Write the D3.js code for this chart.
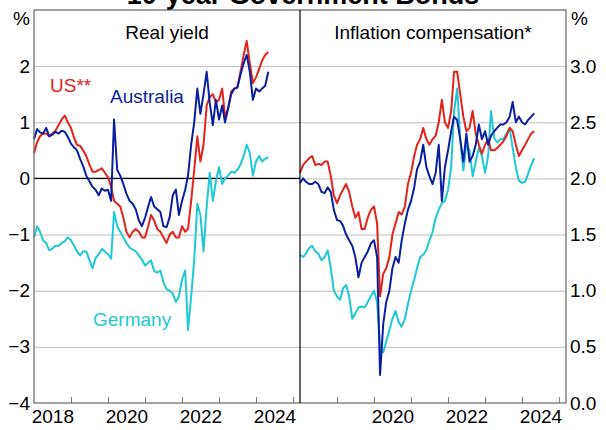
<!DOCTYPE html>
<html>
<head>
<meta charset="utf-8">
<script src="https://cdn.jsdelivr.net/npm/d3@7"></script>
<style>
  body { margin: 0; background: #fff; }
  svg { display: block; font-family: "Liberation Sans", Arial, sans-serif; }
</style>
</head>
<body>
<svg id="chart" width="606" height="430"></svg>
<script>
// monthly observations, Jan 2018 to May 2024
var startMonth = new Date(2018, 0, 1);
var endMonth = new Date(2024, 5, 1);

// Real yield, %
var usReal = [0.45,0.65,0.75,0.8,0.8,0.75,0.8,0.85,0.95,1.05,
  1.12,1.0,0.9,0.72,0.6,0.58,0.5,0.4,0.25,0.12,
  0.12,0.15,0.18,0.1,0.02,-0.15,-0.4,-0.45,-0.5,-0.7,
  -0.95,-1.05,-0.95,-0.9,-0.95,-1.05,-1.05,-0.85,-0.65,-0.75,
  -0.9,-0.95,-1.05,-1.15,-1.0,-0.95,-1.05,-1.05,-0.85,-0.95,
  -0.9,-0.4,0.15,0.75,0.3,0.6,1.3,1.45,1.5,1.35,
  1.4,1.6,1.1,1.25,1.55,1.6,1.62,1.9,2.2,2.45,
  2.05,1.7,1.8,1.95,2.1,2.2,2.25];
var auReal = [0.7,0.88,0.82,0.8,0.9,0.75,0.78,0.83,0.8,0.85,
  0.83,0.74,0.62,0.55,0.5,0.35,0.22,0.05,-0.05,-0.15,
  -0.2,-0.3,-0.18,-0.22,-0.2,-0.4,1.05,0.15,0.05,-0.1,
  -0.27,-0.4,-0.45,-0.55,-0.75,-0.85,-0.7,-0.5,-0.33,-0.5,
  -0.55,-0.6,-0.85,-0.87,-0.69,-0.3,-0.2,-0.65,-0.4,-0.2,
  0.05,0.6,1.0,1.6,1.15,1.5,1.9,1.35,0.95,1.4,
  1.05,1.3,1.0,1.25,1.5,1.6,1.62,1.85,2.05,2.2,
  1.9,1.4,1.6,1.55,1.6,1.65,1.9];
var deReal = [-1.05,-0.85,-0.95,-1.1,-1.15,-1.28,-1.25,-1.2,-1.2,-1.15,
  -1.12,-1.05,-1.1,-1.2,-1.3,-1.37,-1.3,-1.3,-1.45,-1.6,
  -1.42,-1.35,-1.26,-1.3,-1.35,-1.43,-0.6,-0.85,-0.95,-1.05,
  -1.15,-1.23,-1.27,-1.3,-1.37,-1.45,-1.55,-1.5,-1.46,-1.65,
  -1.68,-1.64,-1.85,-1.97,-2.0,-2.05,-2.2,-2.1,-1.8,-1.64,
  -2.7,-2.1,-1.45,-0.45,-0.65,-1.3,-0.5,0.1,-0.4,-0.05,
  0.2,-0.1,0.0,0.05,0.12,0.1,0.15,0.25,0.4,0.6,
  0.45,0.05,0.3,0.4,0.3,0.35,0.38];

// Inflation compensation, %
var usInfl = [2.05,2.12,2.15,2.18,2.2,2.12,2.13,2.12,2.15,2.15,
  2.02,1.85,1.78,1.85,1.9,1.95,1.88,1.75,1.65,1.7,
  1.55,1.55,1.65,1.72,1.75,1.6,0.95,1.15,1.2,1.3,
  1.5,1.6,1.7,1.68,1.75,1.95,2.05,2.2,2.3,2.35,
  2.45,2.35,2.3,2.35,2.38,2.5,2.7,2.5,2.45,2.6,
  2.95,2.95,2.75,2.55,2.42,2.45,2.6,2.4,2.3,2.22,
  2.3,2.35,2.25,2.25,2.27,2.3,2.33,2.38,2.45,2.42,
  2.3,2.2,2.25,2.3,2.35,2.4,2.42];
var auInfl = [1.96,2.0,1.97,1.95,1.95,1.97,1.95,1.88,1.87,1.92,
  1.88,1.72,1.63,1.62,1.58,1.5,1.45,1.4,1.3,1.12,
  1.25,1.3,1.35,1.42,1.45,1.3,0.25,0.7,0.9,1.0,
  1.2,1.3,1.25,1.45,1.6,1.72,1.8,1.92,2.08,2.15,
  2.3,2.1,2.02,1.95,2.05,2.3,1.8,2.1,2.25,2.42,
  2.55,2.52,2.35,2.15,2.4,2.15,2.2,2.3,2.48,2.35,
  2.42,2.3,2.38,2.42,2.45,2.48,2.48,2.5,2.55,2.68,
  2.5,2.55,2.5,2.48,2.52,2.55,2.58];
var deInfl = [1.32,1.3,1.33,1.38,1.4,1.35,1.33,1.27,1.3,1.36,
  1.2,1.0,0.95,0.92,1.02,1.05,0.95,0.75,0.8,0.85,
  0.86,0.85,0.9,0.95,1.0,0.9,0.5,0.45,0.55,0.65,
  0.75,0.82,0.72,0.68,0.75,0.88,1.0,1.1,1.2,1.3,
  1.32,1.36,1.45,1.52,1.65,1.72,1.78,1.8,1.9,2.1,
  2.6,2.8,2.35,2.07,2.3,2.25,2.02,2.15,2.27,2.2,
  2.05,2.2,2.6,2.36,2.32,2.35,2.35,2.4,2.45,2.27,
  2.1,1.98,1.96,1.97,2.04,2.12,2.18];

var leftTicks = [-4, -3, -2, -1, 0, 1, 2];
var rightTicks = [0, 0.5, 1, 1.5, 2, 2.5, 3];
var leftYears = [2018, 2020, 2022, 2024];
var rightYears = [2020, 2022, 2024];

var colours = {us: "#e2231a", au: "#0a1fa0", de: "#1fc8d6"};

var margin = {top: 10, right: 40, bottom: 27, left: 34};
var width = 606 - margin.left - margin.right;
var height = 430 - margin.top - margin.bottom;
var mid = margin.left + width / 2;
var plotTop = margin.top, plotBottom = margin.top + height;
var plotRight = margin.left + width;

var months = d3.timeMonth.range(startMonth, endMonth);
var xDomain = [new Date(2018, 0, 1), new Date(2025, 2, 10)];

var xL = d3.scaleTime().domain(xDomain).range([margin.left, mid]);
var xR = d3.scaleTime().domain(xDomain).range([mid, plotRight]);
var yL = d3.scaleLinear().domain([-4, 3]).range([plotBottom, plotTop]);
var yR = d3.scaleLinear().domain([0, 3.5]).range([plotBottom, plotTop]);

var svg = d3.select("#chart");

// title, cut off at the top of the picture
svg.append("text")
    .attr("x", 303).attr("y", 4)
    .attr("text-anchor", "middle")
    .style("font-size", "27px").style("font-weight", "bold")
    .text("10-year Government Bonds");

// Horizontal grid lines (shared by both panels)
svg.append("g")
    .attr("transform", "translate(" + margin.left + ",0)")
    .call(d3.axisLeft(yL).tickValues([-3, -2, -1, 0, 1, 2]).tickSize(-width).tickFormat(""))
    .call(function (g) { g.select(".domain").remove(); })
    .selectAll("line").attr("stroke", "#bdbdbd");

// zero line of the real yield panel
svg.append("line")
    .attr("x1", margin.left).attr("x2", mid)
    .attr("y1", yL(0)).attr("y2", yL(0))
    .attr("stroke", "#000").attr("stroke-width", 1.2);

// x axis ticks (year starts) and labels (mid-year)
var yearStarts = d3.range(2019, 2026).map(function (y) { return new Date(y, 0, 1); });
function midYear(y) { return new Date(y, 6, 1); }

[[xL, leftYears], [xR, rightYears]].forEach(function (p) {
    svg.append("g")
        .attr("transform", "translate(0," + plotBottom + ")")
        .call(d3.axisBottom(p[0]).tickValues(yearStarts).tickSize(-6).tickFormat(""))
        .call(function (g) { g.select(".domain").remove(); })
        .selectAll("line").attr("stroke", "#777");
    svg.append("g")
        .attr("transform", "translate(0," + plotBottom + ")")
        .call(d3.axisBottom(p[0]).tickValues(p[1].map(midYear)).tickSize(0).tickPadding(7)
            .tickFormat(d3.timeFormat("%Y")))
        .call(function (g) { g.select(".domain").remove(); })
        .selectAll("text").style("font-size", "19px").attr("fill", "#000")
        .style("font-family", "Liberation Sans, Arial, sans-serif");
});

// y axis labels
svg.append("g")
    .attr("transform", "translate(" + margin.left + ",0)")
    .call(d3.axisLeft(yL).tickValues(leftTicks).tickSize(0).tickPadding(4).tickFormat(d3.format("d")))
    .call(function (g) { g.select(".domain").remove(); })
    .selectAll("text").style("font-size", "19px").attr("fill", "#000")
    .style("font-family", "Liberation Sans, Arial, sans-serif");

svg.append("g")
    .attr("transform", "translate(" + plotRight + ",0)")
    .call(d3.axisRight(yR).tickValues(rightTicks).tickSize(0).tickPadding(4).tickFormat(d3.format(".1f")))
    .call(function (g) { g.select(".domain").remove(); })
    .selectAll("text").style("font-size", "19px").attr("fill", "#000")
    .style("font-family", "Liberation Sans, Arial, sans-serif");

svg.append("text").attr("x", 30).attr("y", 25).attr("text-anchor", "end")
    .style("font-size", "19px").text("%");
svg.append("text").attr("x", 571).attr("y", 25)
    .style("font-size", "19px").text("%");

// series lines
function drawSeries(x, y, values, colour) {
    var line = d3.line()
        .x(function (d, i) { return x(months[i]); })
        .y(function (d) { return y(d); });
    svg.append("path")
        .datum(values)
        .attr("d", line)
        .attr("fill", "none")
        .attr("stroke", colour)
        .attr("stroke-width", 2)
        .attr("stroke-linejoin", "round");
}

drawSeries(xL, yL, deReal, colours.de);
drawSeries(xL, yL, usReal, colours.us);
drawSeries(xL, yL, auReal, colours.au);

drawSeries(xR, yR, deInfl, colours.de);
drawSeries(xR, yR, usInfl, colours.us);
drawSeries(xR, yR, auInfl, colours.au);

// frame
svg.append("rect")
    .attr("x", margin.left).attr("y", plotTop)
    .attr("width", width).attr("height", height)
    .attr("fill", "none").attr("stroke", "#666").attr("stroke-width", 1.2);
svg.append("line")
    .attr("x1", mid).attr("x2", mid).attr("y1", plotTop).attr("y2", plotBottom)
    .attr("stroke", "#000").attr("stroke-width", 1.2);

// panel titles
svg.append("text").attr("x", (margin.left + mid) / 2).attr("y", 39)
    .attr("text-anchor", "middle").style("font-size", "19px").text("Real yield");
svg.append("text").attr("x", (mid + plotRight) / 2).attr("y", 39)
    .attr("text-anchor", "middle").style("font-size", "19px").text("Inflation compensation*");

// series labels
svg.append("text").attr("x", 50).attr("y", 92).attr("fill", colours.us)
    .style("font-size", "19px").text("US**");
svg.append("text").attr("x", 110).attr("y", 103).attr("fill", colours.au)
    .style("font-size", "19px").text("Australia");
svg.append("text").attr("x", 93).attr("y", 326).attr("fill", colours.de)
    .style("font-size", "19px").text("Germany");
</script>
</body>
</html>
